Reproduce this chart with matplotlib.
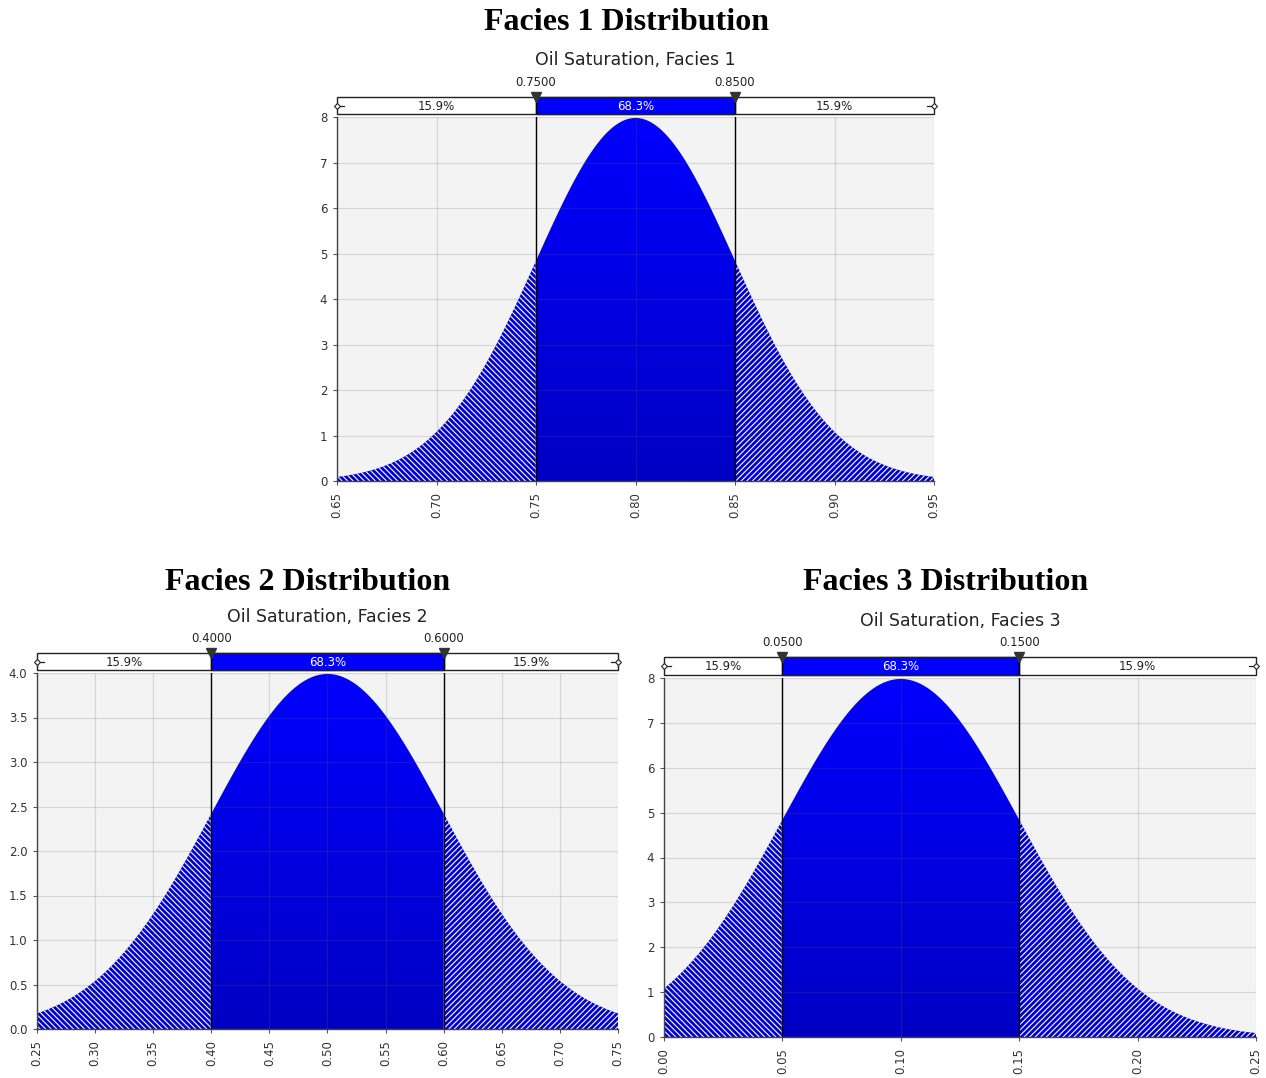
import numpy as np
import matplotlib.pyplot as plt
from matplotlib.colors import LinearSegmentedColormap
from matplotlib.patches import Polygon, Rectangle

plt.rcParams['hatch.linewidth'] = 0.8

W, H = 1266, 1078

# distribution settings for each facies
facies = ['Facies 1', 'Facies 2', 'Facies 3']
means = [0.80, 0.50, 0.10]
std_devs = [0.05, 0.10, 0.05]
x_ranges = [(0.65, 0.95), (0.25, 0.75), (0.00, 0.25)]
y_tops = [8, 4.0, 8]
y_steps = [1, 0.5, 1]
y_fmts = ['{:.0f}', '{:.1f}', '{:.0f}']
cut_points = [(0.75, 0.85), (0.40, 0.60), (0.05, 0.15)]
band_pcts = [15.9, 68.3, 15.9]

# pixel layout: plot box (l, t, r, b), bar top, title x/y, subtitle y, cut label y
layouts = [
    dict(box=(337, 117, 934, 481), bar_top=97, title_x=627, title_y=22, sub_y=60, cut_y=82),
    dict(box=(37, 673, 618, 1029), bar_top=653, title_x=308, title_y=583, sub_y=617, cut_y=638),
    dict(box=(664, 678, 1256, 1037), bar_top=657, title_x=946, title_y=583, sub_y=621, cut_y=643),
]

blue_grad = LinearSegmentedColormap.from_list('bluegrad', ['#0000c4', '#0000ff'])
tick_color = '#333333'


def normal_pdf(x, mu, sd):
    return np.exp(-0.5 * ((x - mu) / sd) ** 2) / (sd * np.sqrt(2 * np.pi))


def px_axes(fig, l, t, r, b):
    return fig.add_axes([l / W, 1 - b / H, (r - l) / W, (b - t) / H])


def draw_panel(fig, i):
    lay = layouts[i]
    l, t, r, b = lay['box']
    x0, x1 = x_ranges[i]
    c1, c2 = cut_points[i]
    mu, sd = means[i], std_devs[i]
    ytop = y_tops[i]

    ax = px_axes(fig, l, t, r, b)
    ax.set_facecolor('#f3f3f3')
    ax.set_xlim(x0, x1)
    ax.set_ylim(0, ytop)

    x = np.linspace(x0, x1, 800)
    y = normal_pdf(x, mu, sd)

    # hatched tails
    left = x <= c1
    right = x >= c2
    ax.fill_between(x[left], y[left], facecolor='#0000d0', edgecolor='white',
                    hatch='\\' * 6, linewidth=0, zorder=2)
    ax.fill_between(x[right], y[right], facecolor='#0000d0', edgecolor='white',
                    hatch='/' * 6, linewidth=0, zorder=2)

    # central band with vertical gradient
    xc = np.linspace(c1, c2, 400)
    yc = normal_pdf(xc, mu, sd)
    verts = np.column_stack([np.r_[c1, xc, c2], np.r_[0, yc, 0]])
    clip = Polygon(verts, closed=True, facecolor='none', edgecolor='none',
                   transform=ax.transData)
    ax.add_patch(clip)
    im = ax.imshow(np.linspace(0, 1, 256).reshape(-1, 1), origin='lower', cmap=blue_grad,
                   extent=[c1, c2, 0, ytop], aspect='auto', zorder=2)
    im.set_clip_path(clip)

    # grid on top, semi transparent
    ax.grid(True, color='#666666', alpha=0.2, linewidth=0.9, zorder=3)
    ax.set_axisbelow(False)

    for c in (c1, c2):
        ax.axvline(c, color='black', linewidth=1.0, zorder=4)

    xt = np.arange(x0, x1 + 1e-9, 0.05)
    ax.set_xticks(xt)
    ax.set_xticklabels([f'{v:.2f}' for v in xt], rotation=90, fontsize=8.5, color=tick_color)
    yt = np.arange(0, ytop + 1e-9, y_steps[i])
    ax.set_yticks(yt)
    ax.set_yticklabels([y_fmts[i].format(v) for v in yt], fontsize=8.5, color=tick_color)
    ax.tick_params(axis='x', length=3, width=0.8, color='#555555', pad=5)
    ax.tick_params(axis='y', length=3, width=0.8, color='#555555', pad=4)
    for s in ('top', 'right'):
        ax.spines[s].set_visible(False)
    for s in ('left', 'bottom'):
        ax.spines[s].set_color('#444444')
        ax.spines[s].set_linewidth(1.0)
        ax.spines[s].set_zorder(5)

    # percentile bar above the plot
    bax = px_axes(fig, l, lay['bar_top'], r, t - 3)
    bax.set_xlim(x0, x1)
    bax.set_ylim(0, 1)
    bax.axis('off')
    bax.add_patch(Rectangle((x0, 0), x1 - x0, 1, facecolor='white', edgecolor='#222222',
                            linewidth=1.0, clip_on=False))
    bax.add_patch(Rectangle((c1, 0), c2 - c1, 1, facecolor='#0000ff', edgecolor='#222222',
                            linewidth=1.0, clip_on=False))
    mids = [(x0 + c1) / 2, (c1 + c2) / 2, (c2 + x1) / 2]
    for k, (m, p) in enumerate(zip(mids, band_pcts)):
        bax.text(m, 0.45, f'{p:.1f}%', ha='center', va='center', fontsize=8.5,
                 color='white' if k == 1 else '#222222')
    for c in (c1, c2):
        bax.plot([c, c], [0, 1], color='black', linewidth=1.0)
        bax.plot([c], [1.0], marker='v', markersize=7, color='#333333',
                 clip_on=False, zorder=6)
    # end grips
    span = x1 - x0
    for xe, d in ((x0, 1), (x1, -1)):
        bax.plot([xe - 0.004 * span * d, xe + 0.012 * span * d], [0.5, 0.5],
                 color='#222222', linewidth=0.9, clip_on=False)
        bax.plot([xe], [0.5], marker='D', markersize=3, markerfacecolor='white',
                 markeredgecolor='#222222', markeredgewidth=0.8, clip_on=False, zorder=6)

    # text above
    fig.text(lay['title_x'] / W, 1 - lay['title_y'] / H, f'{facies[i]} Distribution',
             ha='center', va='center', fontsize=23, fontweight='bold',
             family='Liberation Serif')
    fig.text(((l + r) / 2) / W, 1 - lay['sub_y'] / H, f'Oil Saturation, {facies[i]}',
             ha='center', va='center', fontsize=12.5, color='#222222')
    for c in (c1, c2):
        xp = l + (c - x0) / span * (r - l)
        fig.text(xp / W, 1 - lay['cut_y'] / H, f'{c:.4f}', ha='center', va='center',
                 fontsize=8.5, color='#222222')


fig = plt.figure(figsize=(W / 100, H / 100), dpi=100)
for i in range(3):
    draw_panel(fig, i)

fig.savefig('out.png', dpi=100)
